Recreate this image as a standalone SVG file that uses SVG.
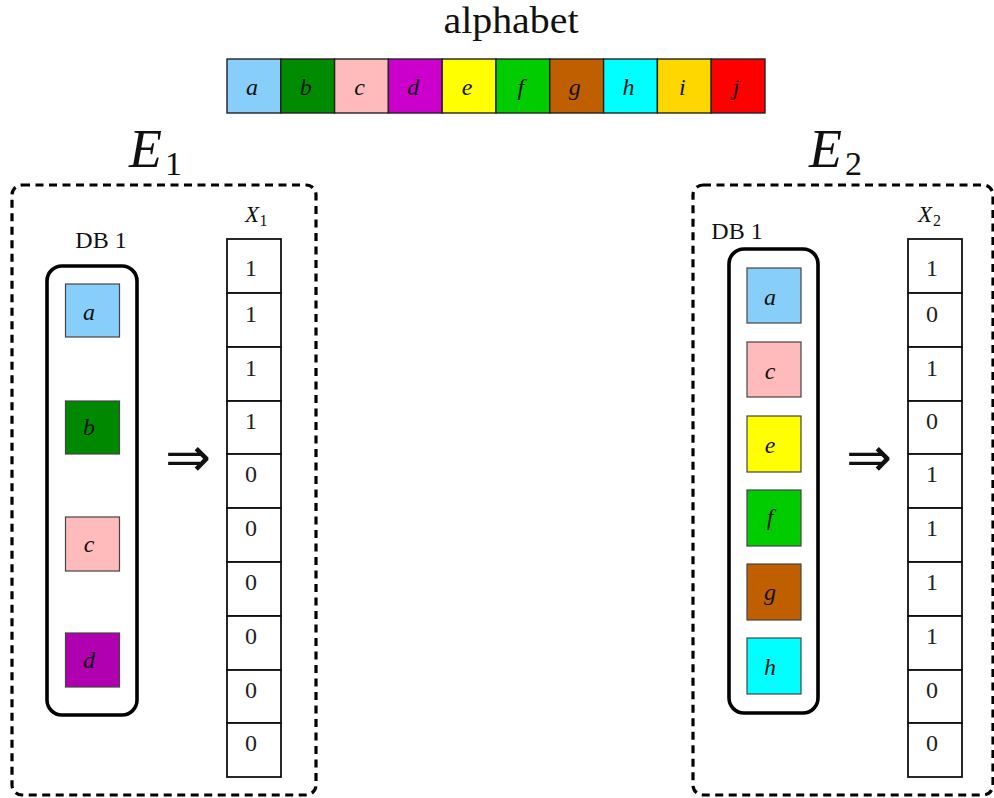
<svg xmlns="http://www.w3.org/2000/svg" width="994" height="798" viewBox="0 0 994 798">
<style>
.bg{fill:#ffffff}
.cell{stroke:#222;stroke-width:1.4}
.sq{stroke:#444;stroke-width:1.2}
.lt{font-family:"Liberation Serif","DejaVu Serif",serif;font-style:italic;font-size:24px;text-anchor:middle;fill:#111}
.num{font-family:"Liberation Serif","DejaVu Serif",serif;font-size:24px;text-anchor:middle;fill:#222}
.rm{font-family:"Liberation Serif","DejaVu Serif",serif;fill:#111}
.it{font-family:"Liberation Serif","DejaVu Serif",serif;font-style:italic;fill:#111}
.bit{fill:#fff;stroke:#111;stroke-width:1.8}
.dash{fill:none;stroke:#000;stroke-width:3.2;stroke-dasharray:8 5.5}
.db{fill:none;stroke:#000;stroke-width:3.6}
.arr{font-family:"DejaVu Sans",sans-serif;font-size:55px;text-anchor:middle;fill:#111}
</style>
<rect class="bg" x="0" y="0" width="994" height="798"/>

<g id="alphabet">
  <text class="rm" x="511" y="33" font-size="38" text-anchor="middle" textLength="135" lengthAdjust="spacingAndGlyphs">alphabet</text>
  <rect class="cell" x="227" y="59" width="53.8" height="54" fill="#87CEFA"/>
  <rect class="cell" x="280.8" y="59" width="53.8" height="54" fill="#008B00"/>
  <rect class="cell" x="334.6" y="59" width="53.8" height="54" fill="#FFBBBB"/>
  <rect class="cell" x="388.4" y="59" width="53.8" height="54" fill="#CC00CC"/>
  <rect class="cell" x="442.2" y="59" width="53.8" height="54" fill="#FFFF00"/>
  <rect class="cell" x="496" y="59" width="53.8" height="54" fill="#00CC00"/>
  <rect class="cell" x="549.8" y="59" width="53.8" height="54" fill="#BF5F00"/>
  <rect class="cell" x="603.6" y="59" width="53.8" height="54" fill="#00FFFF"/>
  <rect class="cell" x="657.4" y="59" width="53.8" height="54" fill="#FFD700"/>
  <rect class="cell" x="711.2" y="59" width="53.8" height="54" fill="#FF0000"/>
  <text class="lt" x="251.9" y="95">a</text>
  <text class="lt" x="305.7" y="95">b</text>
  <text class="lt" x="359.5" y="95">c</text>
  <text class="lt" x="413.3" y="95">d</text>
  <text class="lt" x="467.1" y="95">e</text>
  <text class="lt" x="520.9" y="95">f</text>
  <text class="lt" x="574.7" y="95">g</text>
  <text class="lt" x="628.5" y="95">h</text>
  <text class="lt" x="682.3" y="95">i</text>
  <text class="lt" x="736.1" y="95">j</text>
</g>

<g id="E1">
  <text class="it" x="129" y="167" font-size="54">E</text>
  <text class="rm" x="165" y="175" font-size="34">1</text>
  <rect class="dash" x="12" y="185" width="304" height="610" rx="10"/>
</g>

<g id="DB1_E1">
  <text class="rm" x="101" y="248" font-size="24" text-anchor="middle">DB 1</text>
  <rect class="db" x="47" y="266" width="90" height="449" rx="15"/>
  <rect class="sq" x="65.5" y="284" width="54" height="53" fill="#87CEFA"/>
  <rect class="sq" x="65.5" y="401" width="54" height="53" fill="#008800"/>
  <rect class="sq" x="65.5" y="517" width="54" height="54" fill="#FFBBBB"/>
  <rect class="sq" x="65.5" y="633" width="54" height="54" fill="#B000B0"/>
  <text class="lt" x="89" y="320">a</text>
  <text class="lt" x="89" y="435">b</text>
  <text class="lt" x="89" y="552">c</text>
  <text class="lt" x="89" y="668">d</text>
</g>

<g id="X1">
  <text class="it" x="245" y="222" font-size="23">X</text>
  <text class="rm" x="259.5" y="226" font-size="16">1</text>
  <rect class="bit" x="227" y="239" width="54" height="54"/>
  <rect class="bit" x="227" y="293" width="54" height="54"/>
  <rect class="bit" x="227" y="347" width="54" height="54"/>
  <rect class="bit" x="227" y="401" width="54" height="53"/>
  <rect class="bit" x="227" y="454" width="54" height="54"/>
  <rect class="bit" x="227" y="508" width="54" height="54"/>
  <rect class="bit" x="227" y="562" width="54" height="54"/>
  <rect class="bit" x="227" y="616" width="54" height="54"/>
  <rect class="bit" x="227" y="670" width="54" height="53"/>
  <rect class="bit" x="227" y="723" width="54" height="54"/>
  <text class="num" x="251" y="276">1</text>
  <text class="num" x="251" y="322">1</text>
  <text class="num" x="251" y="376">1</text>
  <text class="num" x="251" y="429">1</text>
  <text class="num" x="251" y="482">0</text>
  <text class="num" x="251" y="536">0</text>
  <text class="num" x="251" y="590">0</text>
  <text class="num" x="251" y="644">0</text>
  <text class="num" x="251" y="698">0</text>
  <text class="num" x="251" y="751">0</text>
</g>

<g id="E2">
  <text class="it" x="809" y="167" font-size="54">E</text>
  <text class="rm" x="845" y="175" font-size="34">2</text>
  <rect class="dash" x="693" y="185" width="300" height="610" rx="10"/>
</g>

<g id="DB1_E2">
  <text class="rm" x="737" y="239" font-size="24" text-anchor="middle">DB 1</text>
  <rect class="db" x="729" y="249" width="89" height="464" rx="15"/>
  <rect class="sq" x="747" y="268" width="54" height="55" fill="#87CEFA"/>
  <rect class="sq" x="747" y="342" width="54" height="55" fill="#FFBBBB"/>
  <rect class="sq" x="747" y="416" width="54" height="56" fill="#FFFF00"/>
  <rect class="sq" x="747" y="490" width="54" height="56" fill="#00CC00"/>
  <rect class="sq" x="747" y="564" width="54" height="56" fill="#BF5F00"/>
  <rect class="sq" x="747" y="638" width="54" height="56" fill="#00FFFF"/>
  <text class="lt" x="770" y="305">a</text>
  <text class="lt" x="770" y="379">c</text>
  <text class="lt" x="770" y="453">e</text>
  <text class="lt" x="770" y="525">f</text>
  <text class="lt" x="770" y="600">g</text>
  <text class="lt" x="770" y="675">h</text>
</g>

<g id="X2">
  <text class="it" x="918" y="222" font-size="23">X</text>
  <text class="rm" x="933" y="226" font-size="16">2</text>
  <rect class="bit" x="908" y="239" width="54" height="54"/>
  <rect class="bit" x="908" y="293" width="54" height="54"/>
  <rect class="bit" x="908" y="347" width="54" height="54"/>
  <rect class="bit" x="908" y="401" width="54" height="53"/>
  <rect class="bit" x="908" y="454" width="54" height="54"/>
  <rect class="bit" x="908" y="508" width="54" height="54"/>
  <rect class="bit" x="908" y="562" width="54" height="54"/>
  <rect class="bit" x="908" y="616" width="54" height="54"/>
  <rect class="bit" x="908" y="670" width="54" height="53"/>
  <rect class="bit" x="908" y="723" width="54" height="54"/>
  <text class="num" x="932" y="276">1</text>
  <text class="num" x="932" y="322">0</text>
  <text class="num" x="932" y="376">1</text>
  <text class="num" x="932" y="429">0</text>
  <text class="num" x="932" y="482">1</text>
  <text class="num" x="932" y="536">1</text>
  <text class="num" x="932" y="590">1</text>
  <text class="num" x="932" y="644">1</text>
  <text class="num" x="932" y="698">0</text>
  <text class="num" x="932" y="751">0</text>
</g>

<g id="connectors">
  <text class="arr" x="188" y="476">⇒</text>
  <text class="arr" x="869" y="476">⇒</text>
</g>
</svg>
